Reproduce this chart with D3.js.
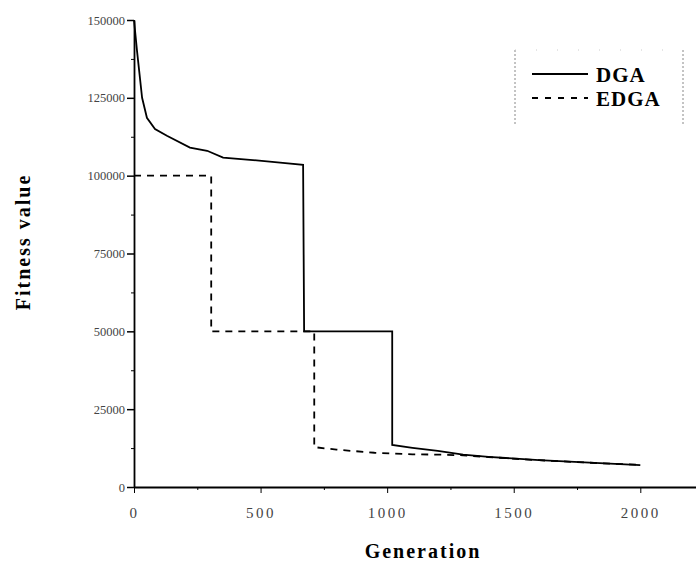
<!DOCTYPE html>
<html>
<head>
<meta charset="utf-8">
<script src="https://cdn.jsdelivr.net/npm/d3@7/dist/d3.min.js"></script>
<style>
  body { margin: 0; background: #fff; }
  svg { display: block; }
  text { font-family: "Liberation Serif", "DejaVu Serif", serif; }
</style>
</head>
<body>
<svg></svg>
<script>
// generation / fitness
var dgaGen = [0, 12, 32, 51, 83, 130, 221, 289, 352, 458, 577, 668, 672, 1020, 1020, 1100, 1200, 1300, 1400, 1600, 1800, 2000]
var dgaVal = [150000, 140000, 125000, 118600, 115000, 112800, 109000, 108000, 105800, 105100, 104200, 103500, 50000, 50000, 13500, 12600, 11600, 10400, 9700, 8600, 7800, 7000]

var edgaGen = [0, 305, 305, 712, 712, 800, 950, 1100, 1200, 1300, 1400, 1600, 1800, 2000]
var edgaVal = [100000, 100000, 50000, 50000, 12800, 12000, 11000, 10500, 10400, 10200, 9600, 8600, 7800, 7100]

var yTicks = [0, 25000, 50000, 75000, 100000, 125000, 150000]
var yTickLabels = ["0", "25000", "50000", "75000", "100000", "125000", "150000"]
var xTicks = [0, 500, 1000, 1500, 2000]
var xTickLabels = ["0", "500", "1000", "1500", "2000"]

var width = 696
var height = 567

var svg = d3.select("svg")
  .attr("width", width)
  .attr("height", height)

var x = d3.scaleLinear()
  .domain([0, 2220])
  .range([134, 696])

var y = d3.scaleLinear()
  .domain([0, 150000])
  .range([487, 20])

// minor ticks (no labels)
svg.append("g")
  .attr("transform", "translate(0," + y(0) + ")")
  .call(d3.axisBottom(x).tickValues([250, 750, 1250, 1750]).tickSize(3).tickFormat(""))
  .call(function (g) { g.select(".domain").remove() })

svg.append("g")
  .attr("transform", "translate(" + x(0) + ",0)")
  .call(d3.axisLeft(y).tickValues([12500, 37500, 62500, 87500, 112500, 137500]).tickSize(3).tickFormat(""))
  .call(function (g) { g.select(".domain").remove() })

// x axis
var xAxis = svg.append("g")
  .attr("transform", "translate(0," + y(0) + ")")
  .call(d3.axisBottom(x)
    .tickValues(xTicks)
    .tickSize(6)
    .tickSizeOuter(0)
    .tickFormat(function (d, i) { return xTickLabels[i] }))

xAxis.select(".domain").attr("stroke-width", 1.8)
xAxis.selectAll("text")
  .attr("dy", "1.45em")
  .style("font-size", "15px")
  .style("letter-spacing", "2.5px")
  .attr("fill", "#444")

// y axis
var yAxis = svg.append("g")
  .attr("transform", "translate(" + x(0) + ",0)")
  .call(d3.axisLeft(y)
    .tickValues(yTicks)
    .tickSize(7)
    .tickSizeOuter(0)
    .tickFormat(function (d, i) { return yTickLabels[i] }))

yAxis.select(".domain").attr("stroke-width", 1.8)
yAxis.selectAll(".tick line").attr("stroke-width", 1.5)
yAxis.selectAll("text")
  .attr("x", -9)
  .style("font-size", "12.5px")
  .attr("fill", "#444")

// lines
var line = d3.line()
  .x(function (d) { return x(d[0]) })
  .y(function (d) { return y(d[1]) })

svg.append("path")
  .datum(edgaGen.map(function (g, i) { return [g, edgaVal[i]] }))
  .attr("fill", "none")
  .attr("stroke", "black")
  .attr("stroke-width", 1.8)
  .attr("stroke-dasharray", "7,6")
  .attr("d", line)

svg.append("path")
  .datum(dgaGen.map(function (g, i) { return [g, dgaVal[i]] }))
  .attr("fill", "none")
  .attr("stroke", "black")
  .attr("stroke-width", 1.8)
  .attr("d", line)

// axis titles
svg.append("text")
  .attr("x", 423)
  .attr("y", 558)
  .attr("text-anchor", "middle")
  .style("font-size", "20px")
  .style("font-weight", "bold")
  .style("letter-spacing", "2px")
  .text("Generation")

svg.append("text")
  .attr("transform", "translate(30,242) rotate(-90)")
  .attr("text-anchor", "middle")
  .style("font-size", "20px")
  .style("font-weight", "bold")
  .style("letter-spacing", "2px")
  .text("Fitness value")

// legend
var legend = svg.append("g")

legend.append("line")
  .attr("x1", 515).attr("x2", 515).attr("y1", 50).attr("y2", 125)
  .attr("stroke", "#888").attr("stroke-dasharray", "2,2")
legend.append("line")
  .attr("x1", 683).attr("x2", 683).attr("y1", 50).attr("y2", 125)
  .attr("stroke", "#888").attr("stroke-dasharray", "2,2")
legend.append("line")
  .attr("x1", 515).attr("x2", 683).attr("y1", 50).attr("y2", 50)
  .attr("stroke", "#ccc").attr("stroke-dasharray", "1,20")

var items = [
  { name: "DGA", dash: null, y: 74 },
  { name: "EDGA", dash: "6,7", y: 98 }
]

items.forEach(function (it) {
  legend.append("line")
    .attr("x1", 532).attr("x2", 588)
    .attr("y1", it.y).attr("y2", it.y)
    .attr("stroke", "black")
    .attr("stroke-width", 1.8)
    .attr("stroke-dasharray", it.dash)
  legend.append("text")
    .attr("x", 596)
    .attr("y", it.y + 8)
    .style("font-size", "21px")
    .style("font-weight", "bold")
    .style("letter-spacing", "1px")
    .text(it.name)
})
</script>
</body>
</html>
